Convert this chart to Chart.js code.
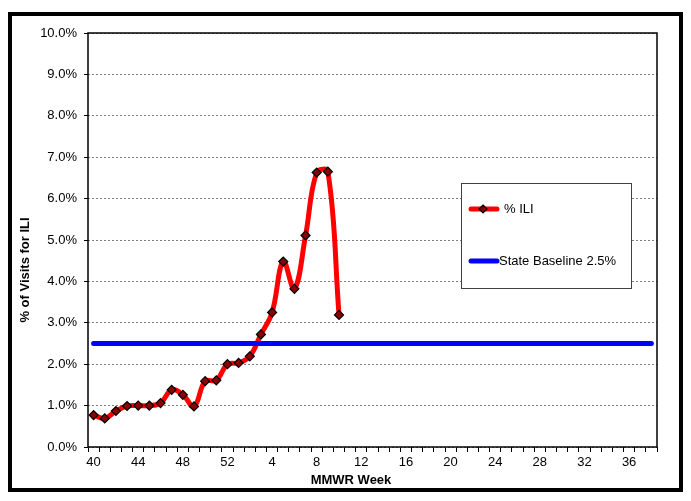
<!DOCTYPE html>
<html lang="en">
<head>
    <meta charset="UTF-8">
    <title>% of Visits for ILI</title>
    <script src="https://cdn.jsdelivr.net/npm/chart.js"></script>
    <style>
        body {
            margin: 0;
            background: #fff;
        }
        canvas {
            display: block;
        }
    </style>
</head>
<body>
    <canvas id="iliChart" width="691" height="501"></canvas>

    <script>
        // MMWR weeks 40-52, then 1-38
        const weeks = ['40', '41', '42', '43', '44', '45', '46', '47', '48', '49', '50', '51', '52',
            '1', '2', '3', '4', '5', '6', '7', '8', '9', '10', '11', '12', '13', '14', '15', '16',
            '17', '18', '19', '20', '21', '22', '23', '24', '25', '26', '27', '28', '29', '30',
            '31', '32', '33', '34', '35', '36', '37', '38'];
        // % ILI, weeks 40 through 10
        const iliValues = [0.77, 0.69, 0.87, 0.99, 1.0, 1.0, 1.06, 1.38, 1.26, 0.98, 1.59, 1.61, 2.0,
            2.03, 2.19, 2.72, 3.25, 4.48, 3.82, 5.11, 6.63, 6.65, 3.19];
        const baseline = 2.5;
        const baselineWeeks = ['40', '38'];
        const yTicks = [0, 1, 2, 3, 4, 5, 6, 7, 8, 9, 10];

        const font = "Liberation Sans, Arial, sans-serif";

        // frame, plot border, axis titles and legend box
        const decorations = {
            id: 'decorations',
            afterDraw(chart) {
                const ctx = chart.ctx;
                const area = chart.chartArea;
                ctx.save();

                ctx.strokeStyle = '#000';
                ctx.lineWidth = 1.5;
                ctx.strokeRect(area.left, area.top, area.right - area.left, area.bottom - area.top);

                ctx.lineWidth = 4;
                ctx.strokeRect(10, 14, 671, 476);

                ctx.fillStyle = '#000';
                ctx.font = 'bold 13px ' + font;
                ctx.textAlign = 'center';
                ctx.textBaseline = 'middle';
                ctx.fillText('MMWR Week', 351, 480);
                ctx.save();
                ctx.translate(25, 270);
                ctx.rotate(-Math.PI / 2);
                ctx.fillText('% of Visits for ILI', 0, 0);
                ctx.restore();

                // legend
                ctx.fillStyle = '#fff';
                ctx.fillRect(461, 183, 170, 105);
                ctx.strokeStyle = '#404040';
                ctx.lineWidth = 1;
                ctx.strokeRect(461.5, 183.5, 170, 105);

                ctx.lineCap = 'round';
                ctx.strokeStyle = '#ff0000';
                ctx.lineWidth = 5;
                ctx.beginPath();
                ctx.moveTo(471, 209);
                ctx.lineTo(497, 209);
                ctx.stroke();
                ctx.fillStyle = '#8b0000';
                ctx.strokeStyle = '#000';
                ctx.lineWidth = 1.2;
                ctx.beginPath();
                ctx.moveTo(483, 205);
                ctx.lineTo(487, 209);
                ctx.lineTo(483, 213);
                ctx.lineTo(479, 209);
                ctx.closePath();
                ctx.fill();
                ctx.stroke();

                ctx.strokeStyle = '#0000ff';
                ctx.lineWidth = 5;
                ctx.beginPath();
                ctx.moveTo(471, 261);
                ctx.lineTo(497, 261);
                ctx.stroke();

                ctx.fillStyle = '#000';
                ctx.font = '13px ' + font;
                ctx.textAlign = 'left';
                ctx.fillText('% ILI', 504, 209);
                ctx.fillText('State Baseline 2.5%', 499, 261);
                ctx.restore();
            }
        };

        let ctx = document.getElementById('iliChart').getContext('2d');
        let iliChart = new Chart(ctx, {
            type: 'line',
            data: {
                labels: weeks,
                datasets: [{
                    label: 'State Baseline 2.5%',
                    data: baselineWeeks.map(w => ({ x: w, y: baseline })),
                    borderColor: '#0000ff',
                    borderWidth: 5,
                    borderCapStyle: 'round',
                    pointRadius: 0,
                    fill: false
                }, {
                    label: '% ILI',
                    data: iliValues,
                    borderColor: '#ff0000',
                    borderWidth: 5,
                    tension: 0.4,
                    pointStyle: 'rectRot',
                    pointRadius: 4.5,
                    pointBackgroundColor: '#8b0000',
                    pointBorderColor: '#000',
                    pointBorderWidth: 1.2,
                    fill: false
                }]
            },
            options: {
                responsive: false,
                animation: false,
                layout: {
                    padding: { top: 33, right: 34, left: 0, bottom: 0 }
                },
                plugins: {
                    legend: { display: false },
                    tooltip: { enabled: false }
                },
                scales: {
                    x: {
                        offset: true,
                        grid: {
                            offset: true,
                            drawOnChartArea: false,
                            tickColor: '#000',
                            tickLength: 5
                        },
                        border: { display: false },
                        ticks: {
                            autoSkip: false,
                            maxRotation: 0,
                            padding: 3,
                            color: '#000',
                            font: { family: font, size: 13 },
                            callback: (v, i) => (i % 4 === 0 ? weeks[i] : '')
                        },
                        afterFit: scale => { scale.height = 54; }
                    },
                    y: {
                        min: 0,
                        max: 10,
                        afterBuildTicks: scale => { scale.ticks = yTicks.map(v => ({ value: v })); },
                        grid: {
                            color: '#808080',
                            tickColor: '#000',
                            tickLength: 4
                        },
                        border: { display: false, dash: [2, 2] },
                        ticks: {
                            padding: 7,
                            color: '#000',
                            font: { family: font, size: 13 },
                            callback: v => v.toFixed(1) + '%'
                        },
                        afterFit: scale => { scale.width = 88; }
                    }
                }
            },
            plugins: [decorations]
        });
    </script>
</body>
</html>
